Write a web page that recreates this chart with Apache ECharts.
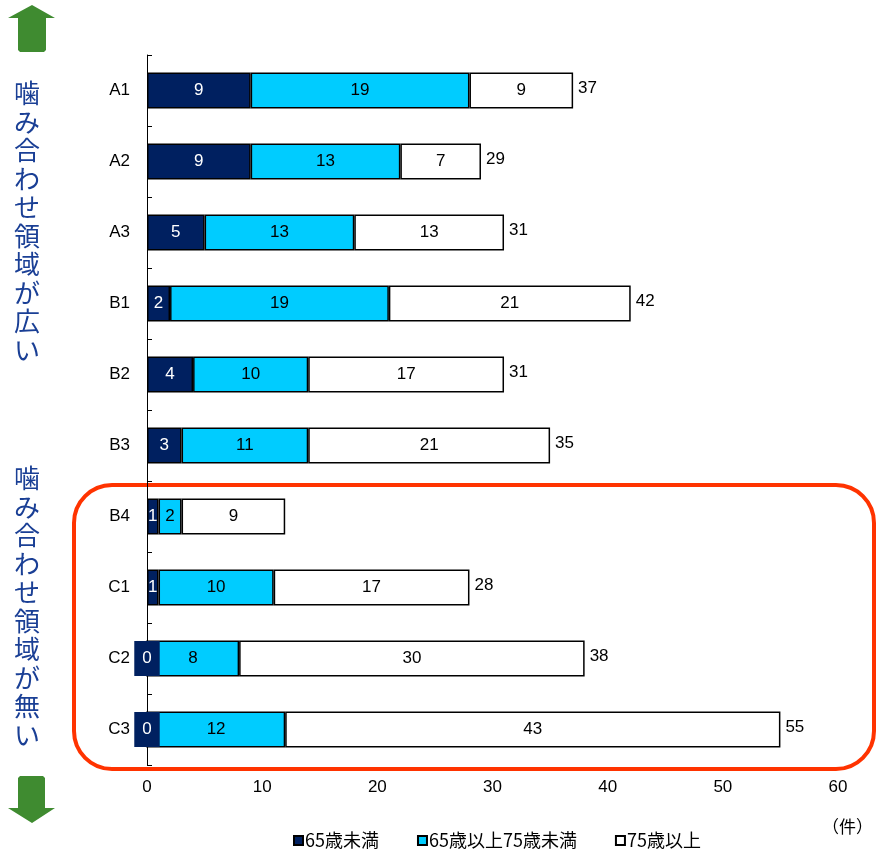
<!DOCTYPE html>
<html><head><meta charset="utf-8">
<script src="https://cdn.jsdelivr.net/npm/echarts@6/dist/echarts.min.js"></script>
<style>html,body{margin:0;padding:0;background:#fff}#c{width:876px;height:852px}</style>
</head><body><div id="c"></div>
<script>
const categories = ['A1','A2','A3','B1','B2','B3','B4','C1','C2','C3'];
const seriesNames = ['65歳未満','65歳以上75歳未満','75歳以上'];
const under65 = [9,9,5,2,4,3,1,1,0,0];
const age65to75 = [19,13,13,19,10,11,2,10,8,12];
const over75 = [9,7,13,21,17,21,9,17,30,43];
const totals = [37,29,31,42,31,35,null,28,38,55];
const xTicks = {min:0, max:60, interval:10};
const textTop = '噛み合わせ領域が広い';
const textBottom = '噛み合わせ領域が無い';

const NUM = 'Liberation Sans, Arial, sans-serif';
const JP = '"Noto Sans CJK JP", sans-serif';
const colors = ['#002060','#00CCFF','#FFFFFF'];

function barSeries(i, data, labelColor){
  return {
    name: seriesNames[i], type:'bar', stack:'t', barWidth:36,
    itemStyle:{color:colors[i], borderColor:'#000', borderWidth:1.5},
    label:{show:true, position:'inside', color:labelColor, fontSize:17, fontFamily:NUM,
      formatter: p => String(p.value)},
    data: data.map(v => {
      if (v === 0 && i === 0) {
        return {value:0, label:{backgroundColor:'#002060', padding:[9,8,9,8], color:'#fff'}};
      }
      return v;
    })
  };
}

const chart = echarts.init(document.getElementById('c'));
chart.setOption({
  animation:false,
  grid:{left:147, right:38, top:55, bottom:87, containLabel:false},
  xAxis:{type:'value', min:xTicks.min, max:xTicks.max, interval:xTicks.interval,
    axisLine:{show:false}, axisTick:{show:false}, splitLine:{show:false},
    axisLabel:{color:'#000', fontSize:17, fontFamily:NUM, margin:14}},
  yAxis:{type:'category', data:categories, inverse:true,
    axisLine:{show:true, lineStyle:{color:'#000', width:1}},
    axisTick:{show:true, inside:true, length:5, lineStyle:{color:'#000'}},
    axisLabel:{color:'#000', fontSize:17, fontFamily:NUM, margin:17}},
  legend:{top:825, left:288, padding:[5,5,5,5], itemWidth:9, itemHeight:9, itemGap:38,
    icon:'rect',
    textStyle:{fontFamily:JP, fontSize:18, color:'#000', padding:[0,0,0,-3], lineHeight:21},
    data:seriesNames},
  series:[
    barSeries(0, under65, '#fff'),
    barSeries(1, age65to75, '#000'),
    barSeries(2, over75, '#000'),
    {type:'scatter', symbolSize:0, silent:true, itemStyle:{opacity:1},
      data: totals.map((t,i)=> t==null ? null : [t, i]),
      label:{show:true, position:'right', distance:5, color:'#000', fontSize:17, fontFamily:NUM,
        offset:[0,-2], formatter:p=>String(p.value[0])}}
  ],
  graphic:[
    {type:'polygon', shape:{points:[[32,5],[55,18],[46,18],[46,50],[44,52],[20,52],[18,50],[18,18],[8,18]]},
      style:{fill:'#3F8B30'}},
    {type:'polygon', shape:{points:[[32,823],[55,808],[45,808],[45,778],[43,776],[20,776],[18,778],[18,808],[8,808]]},
      style:{fill:'#3F8B30'}},
    {type:'text', left:14, top:79, style:{text:textTop.split('').join('\n'), fontSize:26, lineHeight:28.5,
      fill:'#1A3F95', fontFamily:JP}},
    {type:'text', left:14, top:464, style:{text:textBottom.split('').join('\n'), fontSize:26, lineHeight:28.5,
      fill:'#1A3F95', fontFamily:JP}},
    {type:'rect', shape:{x:74, y:485, width:800, height:284, r:38},
      style:{fill:'none', stroke:'#FF3300', lineWidth:4}},
    {type:'text', left:822, top:818, style:{text:'（件）', fontSize:17, fill:'#000', fontFamily:JP}}
  ]
});
</script></body></html>
